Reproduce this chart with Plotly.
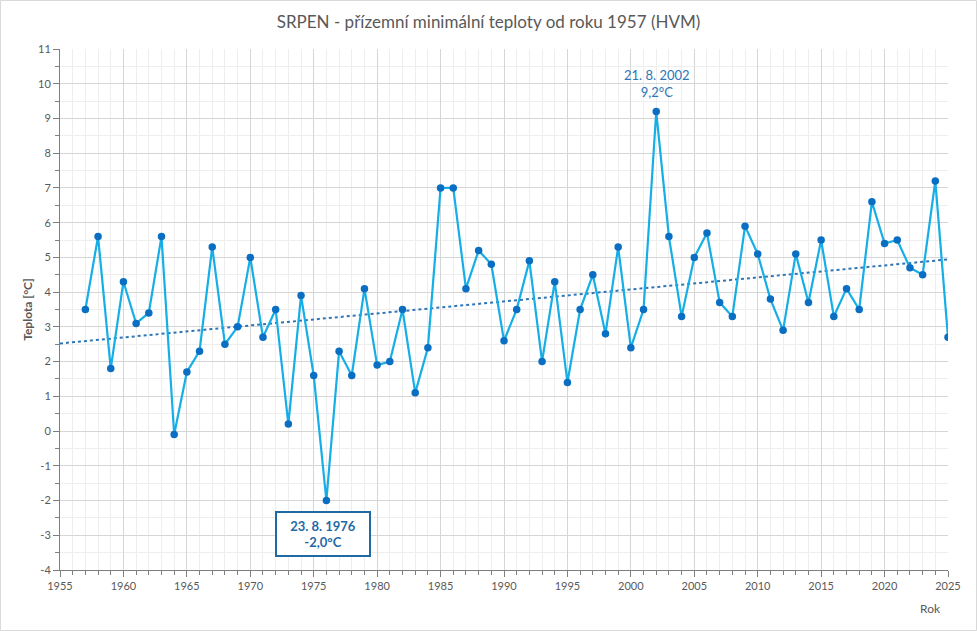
import numpy as np
import plotly.graph_objects as go

years = list(range(1957, 2026))
temps = [3.5, 5.6, 1.8, 4.3, 3.1, 3.4, 5.6, -0.1, 1.7, 2.3,
         5.3, 2.5, 3.0, 5.0, 2.7, 3.5, 0.2, 3.9, 1.6, -2.0,
         2.3, 1.6, 4.1, 1.9, 2.0, 3.5, 1.1, 2.4, 7.0, 7.0,
         4.1, 5.2, 4.8, 2.6, 3.5, 4.9, 2.0, 4.3, 1.4, 3.5,
         4.5, 2.8, 5.3, 2.4, 3.5, 9.2, 5.6, 3.3, 5.0, 5.7,
         3.7, 3.3, 5.9, 5.1, 3.8, 2.9, 5.1, 3.7, 5.5, 3.3,
         4.1, 3.5, 6.6, 5.4, 5.5, 4.7, 4.5, 7.2, 2.7]

y_ticks = list(range(-4, 12))
y_tick_labels = [str(v) for v in y_ticks]

title = "SRPEN - přízemní minimální teploty od roku 1957 (HVM)"
max_label = "21. 8. 2002<br>9,2°C"
min_label = "<b>23. 8. 1976<br>-2,0°C</b>"

slope, intercept = np.polyfit(years, temps, 1)
trend_x = [1955, 2025]
trend_y = [slope * x + intercept for x in trend_x]

FONT = "Lato, Carlito, Liberation Sans, sans-serif"
GRAY = "#595959"
PW, PH = 888, 521  # plot area size in px

fig = go.Figure()
fig.add_trace(go.Scatter(
    x=trend_x, y=trend_y, mode="lines",
    line=dict(color="#2e75b6", width=2, dash="dot"),
    hoverinfo="skip", showlegend=False))
fig.add_trace(go.Scatter(
    x=years, y=temps, mode="lines+markers",
    line=dict(color="#16aee6", width=2.2),
    marker=dict(color="#0a6fc2", size=7.5),
    showlegend=False))

i_max = int(np.argmax(temps))
i_min = int(np.argmin(temps))
fig.add_annotation(x=years[i_max], y=temps[i_max], text=max_label,
                   showarrow=False, yshift=28, xshift=1,
                   font=dict(family=FONT, size=13, color="#2e75b6"))
fig.add_annotation(x=years[i_min], y=temps[i_min], text=min_label,
                   showarrow=False, yshift=-33, xshift=-3,
                   font=dict(family=FONT, size=13, color="#1f6aa5"),
                   bordercolor="#1f6aa5", borderwidth=2, bgcolor="white",
                   width=90, height=40)
fig.add_annotation(xref="paper", yref="paper", x=(930 - 60) / PW, y=-38 / PH,
                   xanchor="center", yanchor="middle", text="Rok", showarrow=False,
                   font=dict(family=FONT, size=12, color=GRAY))

fig.update_layout(
    width=977, height=631,
    margin=dict(l=60, r=29, t=49, b=61),
    paper_bgcolor="white", plot_bgcolor="white",
    title=dict(text=title, x=0.5, xanchor="center", y=1 - 22 / 631, yanchor="middle",
               font=dict(family=FONT, size=17, color=GRAY)),
    font=dict(family=FONT, size=11, color=GRAY),
    shapes=[dict(type="rect", xref="paper", yref="paper",
                 x0=-59.5 / PW, x1=1 + 28.5 / PW, y0=-60.5 / PH, y1=1 + 48.5 / PH,
                 line=dict(color="#d9d9d9", width=1))],
)
fig.update_xaxes(
    range=[1955, 2025], tick0=1955, dtick=5,
    showgrid=True, gridcolor="#d6d6d6", gridwidth=1,
    minor=dict(dtick=1, showgrid=True, gridcolor="#eeeeee",
               ticks="outside", ticklen=4, tickcolor="#7f7f7f"),
    ticks="outside", ticklen=6, tickcolor="#7f7f7f",
    showline=True, linecolor="#7f7f7f", linewidth=1,
    zeroline=False, tickfont=dict(family=FONT, size=11, color=GRAY))
fig.update_yaxes(
    range=[-4, 11], tickmode="array", tickvals=y_ticks, ticktext=y_tick_labels,
    showgrid=True, gridcolor="#d6d6d6", gridwidth=1,
    minor=dict(dtick=0.5, tick0=-4, showgrid=True, gridcolor="#eeeeee",
               ticks="outside", ticklen=4, tickcolor="#7f7f7f"),
    ticks="outside", ticklen=6, tickcolor="#7f7f7f",
    showline=True, linecolor="#7f7f7f", linewidth=1,
    zeroline=False, tickfont=dict(family=FONT, size=11, color=GRAY),
    title=dict(text="<b>Teplota [°C]</b>", standoff=2,
               font=dict(family=FONT, size=12, color=GRAY)))

fig.write_html("out.html", config={"displayModeBar": False},
               post_script="document.body.style.margin='0';document.body.style.overflow='hidden';")
